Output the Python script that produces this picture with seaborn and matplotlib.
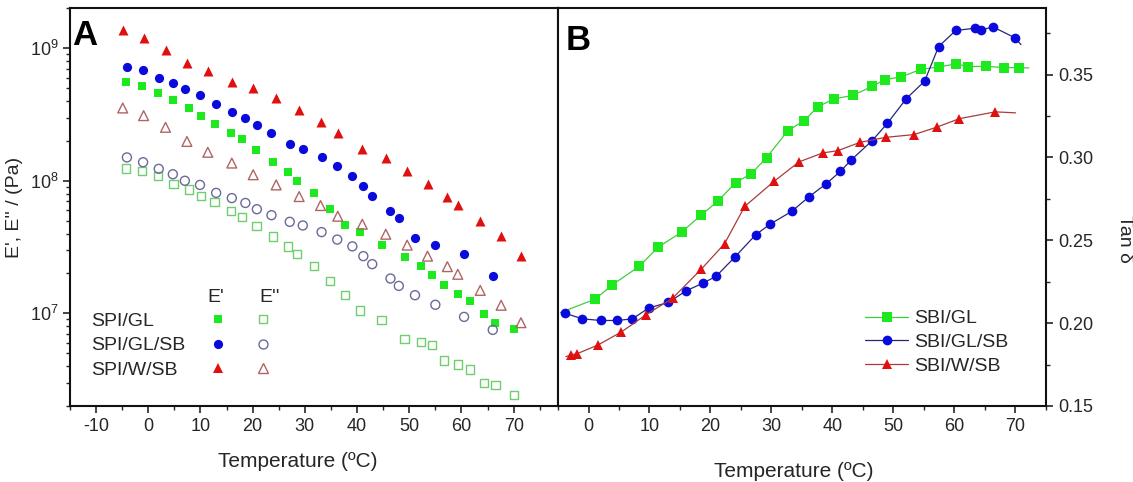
import numpy as np
import pandas as pd
import matplotlib
matplotlib.use("Agg")
import matplotlib.pyplot as plt
from matplotlib.lines import Line2D
from matplotlib.ticker import MultipleLocator, FormatStrFormatter
import seaborn as sns

# ---- panel A : storage (E') and loss (E'') modulus ----
gl_T = [-4.3, -1.2, 1.8, 4.8, 7.8, 10.1, 12.7, 15.8, 17.9, 20.7, 23.9, 26.8, 28.5, 31.8,
        34.8, 37.7, 40.6, 44.7, 49.1, 52.3, 54.3, 56.7, 59.3, 61.6, 64.3, 66.5, 70.1]
gl_E1 = [5.6e8, 5.2e8, 4.6e8, 4.1e8, 3.55e8, 3.1e8, 2.7e8, 2.3e8, 2.05e8, 1.71e8, 1.39e8,
         1.17e8, 1.0e8, 8.1e7, 6.1e7, 4.6e7, 4.1e7, 3.3e7, 2.68e7, 2.28e7, 1.94e7, 1.64e7,
         1.39e7, 1.23e7, 9.9e6, 8.4e6, 7.6e6]
gl_E2 = [1.24e8, 1.18e8, 1.09e8, 9.5e7, 8.6e7, 7.7e7, 6.9e7, 5.9e7, 5.3e7, 4.55e7, 3.8e7,
         3.2e7, 2.8e7, 2.28e7, 1.75e7, 1.37e7, 1.05e7, 8.9e6, 6.4e6, 6.1e6, 5.75e6, 4.4e6,
         4.1e6, 3.78e6, 2.99e6, 2.87e6, 2.41e6]

glsb_T = [-4.1, -1.0, 2.0, 4.7, 7.0, 9.9, 13.0, 16.0, 18.6, 20.8, 23.6, 27.1, 29.6, 33.2,
          36.2, 39.1, 41.2, 42.9, 46.4, 48.0, 51.1, 55.0, 60.5, 66.0]
glsb_E1 = [7.2e8, 6.8e8, 6.0e8, 5.5e8, 4.95e8, 4.4e8, 3.8e8, 3.3e8, 2.96e8, 2.65e8, 2.3e8,
           1.9e8, 1.75e8, 1.52e8, 1.29e8, 1.08e8, 9.2e7, 7.7e7, 5.9e7, 5.2e7, 3.7e7, 3.3e7,
           2.8e7, 1.92e7]
glsb_E2 = [1.5e8, 1.38e8, 1.23e8, 1.12e8, 1.0e8, 9.3e7, 8.1e7, 7.4e7, 6.8e7, 6.1e7, 5.5e7,
           4.9e7, 4.6e7, 4.1e7, 3.6e7, 3.2e7, 2.7e7, 2.35e7, 1.83e7, 1.61e7, 1.37e7, 1.16e7,
           9.4e6, 7.5e6]

wsb_T = [-4.9, -0.9, 3.3, 7.4, 11.4, 16.0, 20.1, 24.5, 28.9, 33.0, 36.3, 41.0, 45.5, 49.6,
         53.5, 57.3, 59.3, 63.6, 67.6, 71.4]
wsb_E1 = [1.36e9, 1.2e9, 9.7e8, 7.7e8, 6.7e8, 5.6e8, 5.0e8, 4.2e8, 3.4e8, 2.76e8, 2.3e8,
          1.73e8, 1.48e8, 1.19e8, 9.5e7, 7.5e7, 6.6e7, 4.96e7, 3.8e7, 2.7e7]
wsb_E2 = [3.54e8, 3.1e8, 2.53e8, 1.98e8, 1.64e8, 1.36e8, 1.11e8, 9.3e7, 7.6e7, 6.5e7, 5.4e7,
          4.7e7, 3.95e7, 3.27e7, 2.7e7, 2.25e7, 1.97e7, 1.49e7, 1.15e7, 8.5e6]

names_A = ["SPI/GL", "SPI/GL/SB", "SPI/W/SB"]

# ---- panel B : tan delta ----
tan_gl_T = [-4.6, 1.1, 3.9, 8.3, 11.4, 15.3, 18.4, 21.3, 24.1, 26.7, 29.2, 32.7, 35.3, 37.6,
            40.2, 43.4, 46.5, 48.6, 51.3, 54.5, 57.4, 60.3, 62.2, 65.1, 68.1, 70.6, 72.2]
tan_gl = [0.2064, 0.2145, 0.2231, 0.2342, 0.2458, 0.2550, 0.2650, 0.2739, 0.2848, 0.2902,
          0.2999, 0.3162, 0.3220, 0.3305, 0.3353, 0.3375, 0.3429, 0.3470, 0.3486, 0.3532,
          0.3546, 0.3565, 0.3548, 0.3550, 0.3542, 0.3542, 0.3540]

tan_glsb_T = [-3.9, -1.0, 2.0, 4.7, 7.2, 9.9, 13.1, 16.0, 18.8, 20.9, 24.0, 27.4, 29.8, 33.3,
              36.1, 39.0, 41.3, 43.1, 46.5, 49.0, 52.1, 55.1, 57.4, 60.2, 63.4, 64.3, 66.3,
              69.9, 70.9]
tan_glsb = [0.2060, 0.2026, 0.2016, 0.2016, 0.2026, 0.2092, 0.2125, 0.2195, 0.2242, 0.2282,
            0.2399, 0.2533, 0.2598, 0.2674, 0.2761, 0.2842, 0.2916, 0.2986, 0.3101, 0.3206,
            0.3355, 0.3460, 0.3669, 0.3766, 0.3780, 0.3768, 0.3788, 0.3722, 0.3681]

tan_wsb_T = [-3.7, -2.8, -1.9, 1.5, 5.4, 9.4, 13.8, 18.5, 22.3, 25.6, 30.4, 34.5, 38.4, 40.9,
             44.5, 48.7, 53.4, 57.2, 60.8, 66.7, 70.0]
tan_wsb = [0.1798, 0.1809, 0.1815, 0.1867, 0.1947, 0.2050, 0.2151, 0.2326, 0.2479, 0.2704,
           0.2855, 0.2973, 0.3027, 0.3041, 0.3091, 0.3121, 0.3138, 0.3184, 0.3234, 0.3275,
           0.3269]

names_B = ["SBI/GL", "SBI/GL/SB", "SBI/W/SB"]

sns.set_style("ticks")
plt.rcParams["font.family"] = ["Liberation Sans", "DejaVu Sans"]
plt.rcParams["mathtext.fontset"] = "custom"
plt.rcParams["mathtext.rm"] = "Liberation Sans"
plt.rcParams["axes.unicode_minus"] = False
txt = "#262626"

fig = plt.figure(figsize=(11.33, 4.82), dpi=100)
axA = fig.add_axes([0.0618, 0.1577, 0.4307, 0.8251])
axB = fig.add_axes([0.4925, 0.1577, 0.4307, 0.8251])

# colours
g_fill, g_open = "#1ee81e", "#6fcf6f"
b_fill, b_open = "#0a0adc", "#6a6a98"
r_fill, r_open = "#e01010", "#b06565"

# ---------- A ----------
filled = [(gl_T, gl_E1, "s", g_fill, 34), (glsb_T, glsb_E1, "o", b_fill, 44),
          (wsb_T, wsb_E1, "^", r_fill, 52)]
hollow = [(gl_T, gl_E2, "s", g_open, 36), (glsb_T, glsb_E2, "o", b_open, 42),
          (wsb_T, wsb_E2, "^", r_open, 50)]
for t, v, m, c, s in filled:
    sns.scatterplot(x=t, y=v, marker=m, color=c, s=s, linewidth=0, ax=axA)
for t, v, m, c, s in hollow:
    sns.scatterplot(x=t, y=v, marker=m, facecolors="none", edgecolor=c, s=s,
                    linewidth=1.0, ax=axA)

axA.set_yscale("log")
axA.set_xlim(-15, 78.5)
axA.set_ylim(2e6, 2e9)
axA.xaxis.set_major_locator(MultipleLocator(10))
axA.xaxis.set_minor_locator(MultipleLocator(5))
axA.tick_params(axis="both", which="major", direction="out", length=5, width=1.2,
                labelsize=13, colors=txt)
axA.tick_params(axis="both", which="minor", direction="out", length=3, width=1.0)
axA.set_xlabel("Temperature (ºC)", fontsize=15, color=txt)
axA.xaxis.set_label_coords(0.467, -0.115)
axA.set_ylabel("E', E'' / (Pa)", fontsize=14, color=txt, labelpad=5)
axA.text(0.004, 0.908, "A", transform=axA.transAxes, fontsize=25, fontweight="bold",
         va="baseline", ha="left", color="black")

hA = [Line2D([], [], ls="", marker="") for _ in range(3)]
hA += [Line2D([], [], ls="", marker=m, color=c, ms=np.sqrt(s), mew=0)
       for _, _, m, c, s in filled]
hA += [Line2D([], [], ls="", marker=m, mfc="none", mec=c, ms=np.sqrt(s), mew=1.0)
       for _, _, m, c, s in hollow]
labA = names_A + [""] * 6
axA.legend(hA, labA, ncol=3, loc="upper left", bbox_to_anchor=(0.0, 0.236), frameon=False,
           borderpad=0, borderaxespad=0, handlelength=0.8, handletextpad=0.3,
           columnspacing=1.25, labelspacing=0.36, fontsize=14, labelcolor=txt)
axA.text(0.299, 0.272, "E'", transform=axA.transAxes, fontsize=14, ha="center",
         va="center", color=txt)
axA.text(0.41, 0.272, "E''", transform=axA.transAxes, fontsize=14, ha="center",
         va="center", color=txt)

# ---------- B ----------
seriesB = [(tan_gl_T, tan_gl, "s", "#3ccf3c", g_fill, 6.5, slice(1, -1)),
           (tan_glsb_T, tan_glsb, "o", "#25257a", b_fill, 7.0, slice(0, -1)),
           (tan_wsb_T, tan_wsb, "^", "#a83c3c", r_fill, 7.5, slice(1, -1))]
for (t, v, m, lc, mc, ms, every), name in zip(seriesB, names_B):
    sns.lineplot(x=t, y=v, sort=False, estimator=None, color=lc, linewidth=0.9,
                 marker=m, markersize=ms, markerfacecolor=mc, markeredgecolor=mc,
                 markeredgewidth=0, markevery=every, label=name, ax=axB)

axB.set_xlim(-5, 75)
axB.set_ylim(0.15, 0.39)
axB.xaxis.set_major_locator(MultipleLocator(10))
axB.xaxis.set_minor_locator(MultipleLocator(5))
axB.yaxis.set_major_locator(MultipleLocator(0.05))
axB.yaxis.set_minor_locator(MultipleLocator(0.025))
axB.yaxis.set_major_formatter(FormatStrFormatter("%.2f"))
axB.yaxis.tick_right()
axB.yaxis.set_label_position("right")
axB.tick_params(axis="both", which="major", direction="out", length=5, width=1.2,
                labelsize=13, colors=txt)
axB.tick_params(axis="both", which="minor", direction="out", length=3, width=1.0)
axB.tick_params(axis="y", which="both", left=False, right=True)
axB.set_xlabel("Temperature (ºC)", fontsize=15, color=txt)
axB.xaxis.set_label_coords(0.484, -0.14)
axB.set_ylabel("Tan δ", fontsize=14, color=txt, rotation=-90)
axB.yaxis.set_label_coords(1.178, 0.42)
axB.text(0.016, 0.895, "B", transform=axB.transAxes, fontsize=25, fontweight="bold",
         va="baseline", ha="left", color="black")
axB.legend(loc="upper left", bbox_to_anchor=(0.63, 0.242), frameon=False, borderpad=0,
           borderaxespad=0, handlelength=2.2, handletextpad=0.3, labelspacing=0.32,
           fontsize=14, labelcolor=txt)

for ax in (axA, axB):
    for sp in ax.spines.values():
        sp.set_visible(True)
        sp.set_linewidth(1.5)
        sp.set_color("#111111")
axA.tick_params(axis="both", which="both", top=False, right=False)
axB.tick_params(axis="x", which="both", top=False)

fig.savefig("out.png", dpi=100)
